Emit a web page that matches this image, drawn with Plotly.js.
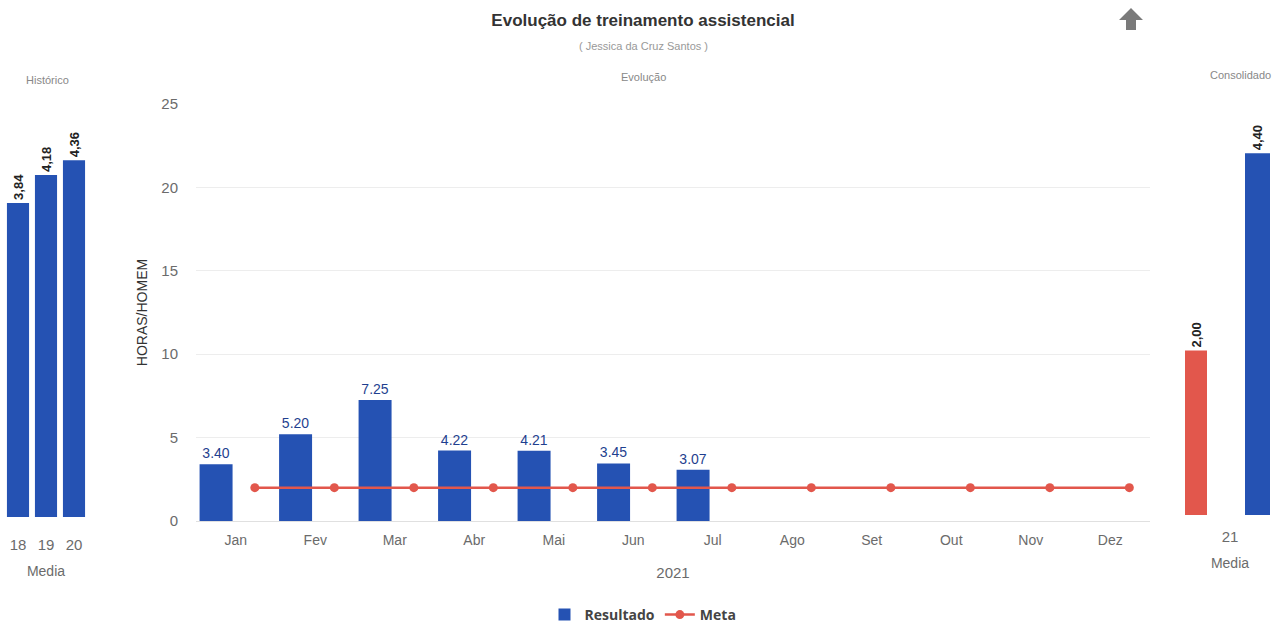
<!DOCTYPE html>
<html>
<head>
<meta charset="utf-8">
<script src="https://cdn.plot.ly/plotly-3.0.1.min.js"></script>
<style>html,body{margin:0;padding:0;background:#fff;}#chart{width:1286px;height:624px;}</style>
</head>
<body>
<div id="chart"></div>
<script>
// ---- data ----
const months = ['Jan','Fev','Mar','Abr','Mai','Jun','Jul','Ago','Set','Out','Nov','Dez'];
const resultado = [3.40, 5.20, 7.25, 4.22, 4.21, 3.45, 3.07, null, null, null, null, null];
const meta = [2, 2, 2, 2, 2, 2, 2, 2, 2, 2, 2, 2];
const histYears = ['18', '19', '20'];
const histValues = [3.84, 4.18, 4.36];
const consYear = ['21'];
const consMeta = [2.00];
const consResultado = [4.40];

const BLUE = '#2552b3';
const RED = '#e2574c';
const comma = v => v.toFixed(2).replace('.', ',');
const dot = v => (v == null ? '' : v.toFixed(2));

const px = x => x / 1286;
const py = y => 1 - y / 624;

const sideText = {size: 13, color: '#222', family: 'Liberation Sans, Arial', weight: 'bold'};

const traces = [
  {
    type: 'bar', name: 'Resultado', x: months, y: resultado,
    xaxis: 'x', yaxis: 'y',
    offset: -0.455, width: 0.415,
    marker: {color: BLUE},
    text: resultado.map(dot), textposition: 'outside', cliponaxis: false, constraintext: 'none',
    textfont: {size: 14, color: '#1f3f8f', family: 'Liberation Sans, Arial'},
    hoverinfo: 'x+y'
  },
  {
    type: 'scatter', mode: 'lines+markers', name: 'Meta', x: months, y: meta,
    xaxis: 'x4', yaxis: 'y',
    line: {color: RED, width: 2.5},
    marker: {color: RED, size: 9}
  },
  {
    type: 'bar', name: 'Resultado', x: histYears, y: histValues,
    xaxis: 'x2', yaxis: 'y2', width: 0.79, showlegend: false,
    marker: {color: BLUE},
    text: histValues.map(comma), textposition: 'outside', textangle: -90, cliponaxis: false,
    constraintext: 'none', textfont: sideText
  },
  {
    type: 'bar', name: 'Meta', x: consYear, y: consMeta,
    xaxis: 'x3', yaxis: 'y3', offset: -0.45, width: 0.22, showlegend: false,
    marker: {color: RED},
    text: consMeta.map(comma), textposition: 'outside', textangle: -90, cliponaxis: false,
    constraintext: 'none', textfont: sideText
  },
  {
    type: 'bar', name: 'Resultado', x: consYear, y: consResultado,
    xaxis: 'x3', yaxis: 'y3', offset: 0.15, width: 0.25, showlegend: false,
    marker: {color: BLUE},
    text: consResultado.map(comma), textposition: 'outside', textangle: -90, cliponaxis: false,
    constraintext: 'none', textfont: sideText
  }
];

const tickGray = '#6b6b6b';
const layout = {
  width: 1286, height: 624,
  margin: {l: 0, r: 0, t: 0, b: 0, autoexpand: false},
  paper_bgcolor: '#fff', plot_bgcolor: '#fff',
  font: {family: 'Liberation Sans, Arial, sans-serif', color: '#444'},
  barmode: 'overlay',
  title: {
    text: 'Evolução de treinamento assistencial',
    font: {size: 17, color: '#333', weight: 'bold'},
    x: 0.5, xanchor: 'center', y: py(20), yanchor: 'middle'
  },
  showlegend: true,
  legend: {
    orientation: 'h', x: 0.5, xanchor: 'center', y: py(615), yanchor: 'middle',
    font: {size: 14, color: '#444', weight: 'bold', family: 'Open Sans, Liberation Sans'},
    traceorder: 'normal'
  },
  xaxis: {
    domain: [px(196), px(1150)], anchor: 'y', type: 'category',
    categoryorder: 'array', categoryarray: months, range: [-0.5, 11.5],
    showgrid: false, showline: false, zeroline: false, ticks: '',
    ticklabelstandoff: 9,
    tickfont: {size: 14, color: tickGray},
    title: {text: '2021', font: {size: 15, color: tickGray}, standoff: 20}
  },
  xaxis4: {
    overlaying: 'x', anchor: 'y', type: 'category',
    categoryorder: 'array', categoryarray: months, range: [-0.74, 11.26],
    visible: false
  },
  yaxis: {
    domain: [py(521), py(104)], anchor: 'x', range: [0, 25], dtick: 5,
    showgrid: true, gridcolor: '#ededed', zeroline: true, zerolinecolor: '#e0e0e0',
    ticks: '', ticklabelstandoff: 17,
    tickfont: {size: 15, color: tickGray},
    title: {text: 'HORAS/HOMEM', font: {size: 14, color: '#333'}, standoff: 10}
  },
  xaxis2: {
    domain: [px(4), px(88)], anchor: 'y2', type: 'category',
    showgrid: false, zeroline: false, ticks: '', ticklabelstandoff: 17,
    tickfont: {size: 15, color: tickGray},
    title: {text: 'Media', font: {size: 14, color: tickGray}, standoff: 14}
  },
  yaxis2: {domain: [py(517), py(108)], anchor: 'x2', range: [0, 5], visible: false},
  xaxis3: {
    domain: [px(1180), px(1280)], anchor: 'y3', type: 'category', range: [-0.5, 0.5],
    showgrid: false, zeroline: false, ticks: '', ticklabelstandoff: 11,
    tickfont: {size: 15, color: tickGray},
    title: {text: 'Media', font: {size: 14, color: tickGray}, standoff: 14}
  },
  yaxis3: {domain: [py(515), py(104)], anchor: 'x3', range: [0, 5], visible: false},
  annotations: [
    {text: '( Jessica da Cruz Santos )', xref: 'paper', yref: 'paper', x: px(643), y: py(46),
      xanchor: 'center', yanchor: 'middle', showarrow: false, font: {size: 11, color: '#999'}},
    {text: 'Evolução', xref: 'paper', yref: 'paper', x: px(643), y: py(77),
      xanchor: 'center', yanchor: 'middle', showarrow: false, font: {size: 11, color: '#888'}},
    {text: 'Histórico', xref: 'paper', yref: 'paper', x: px(47), y: py(80),
      xanchor: 'center', yanchor: 'middle', showarrow: false, font: {size: 11, color: '#888'}},
    {text: 'Consolidado', xref: 'paper', yref: 'paper', x: px(1240), y: py(75),
      xanchor: 'center', yanchor: 'middle', showarrow: false, font: {size: 11, color: '#888'}}
  ],
  shapes: [
    {type: 'path', xref: 'paper', yref: 'paper', line: {width: 0}, fillcolor: '#7a7a7a',
      path: 'M ' + px(1131) + ' ' + py(8) + ' L ' + px(1143) + ' ' + py(20) + ' L ' + px(1136) + ' ' + py(20) +
            ' L ' + px(1136) + ' ' + py(30) + ' L ' + px(1126) + ' ' + py(30) + ' L ' + px(1126) + ' ' + py(20) +
            ' L ' + px(1119) + ' ' + py(20) + ' Z'}
  ]
};

Plotly.newPlot('chart', traces, layout, {displayModeBar: false, responsive: false});
</script>
</body>
</html>
